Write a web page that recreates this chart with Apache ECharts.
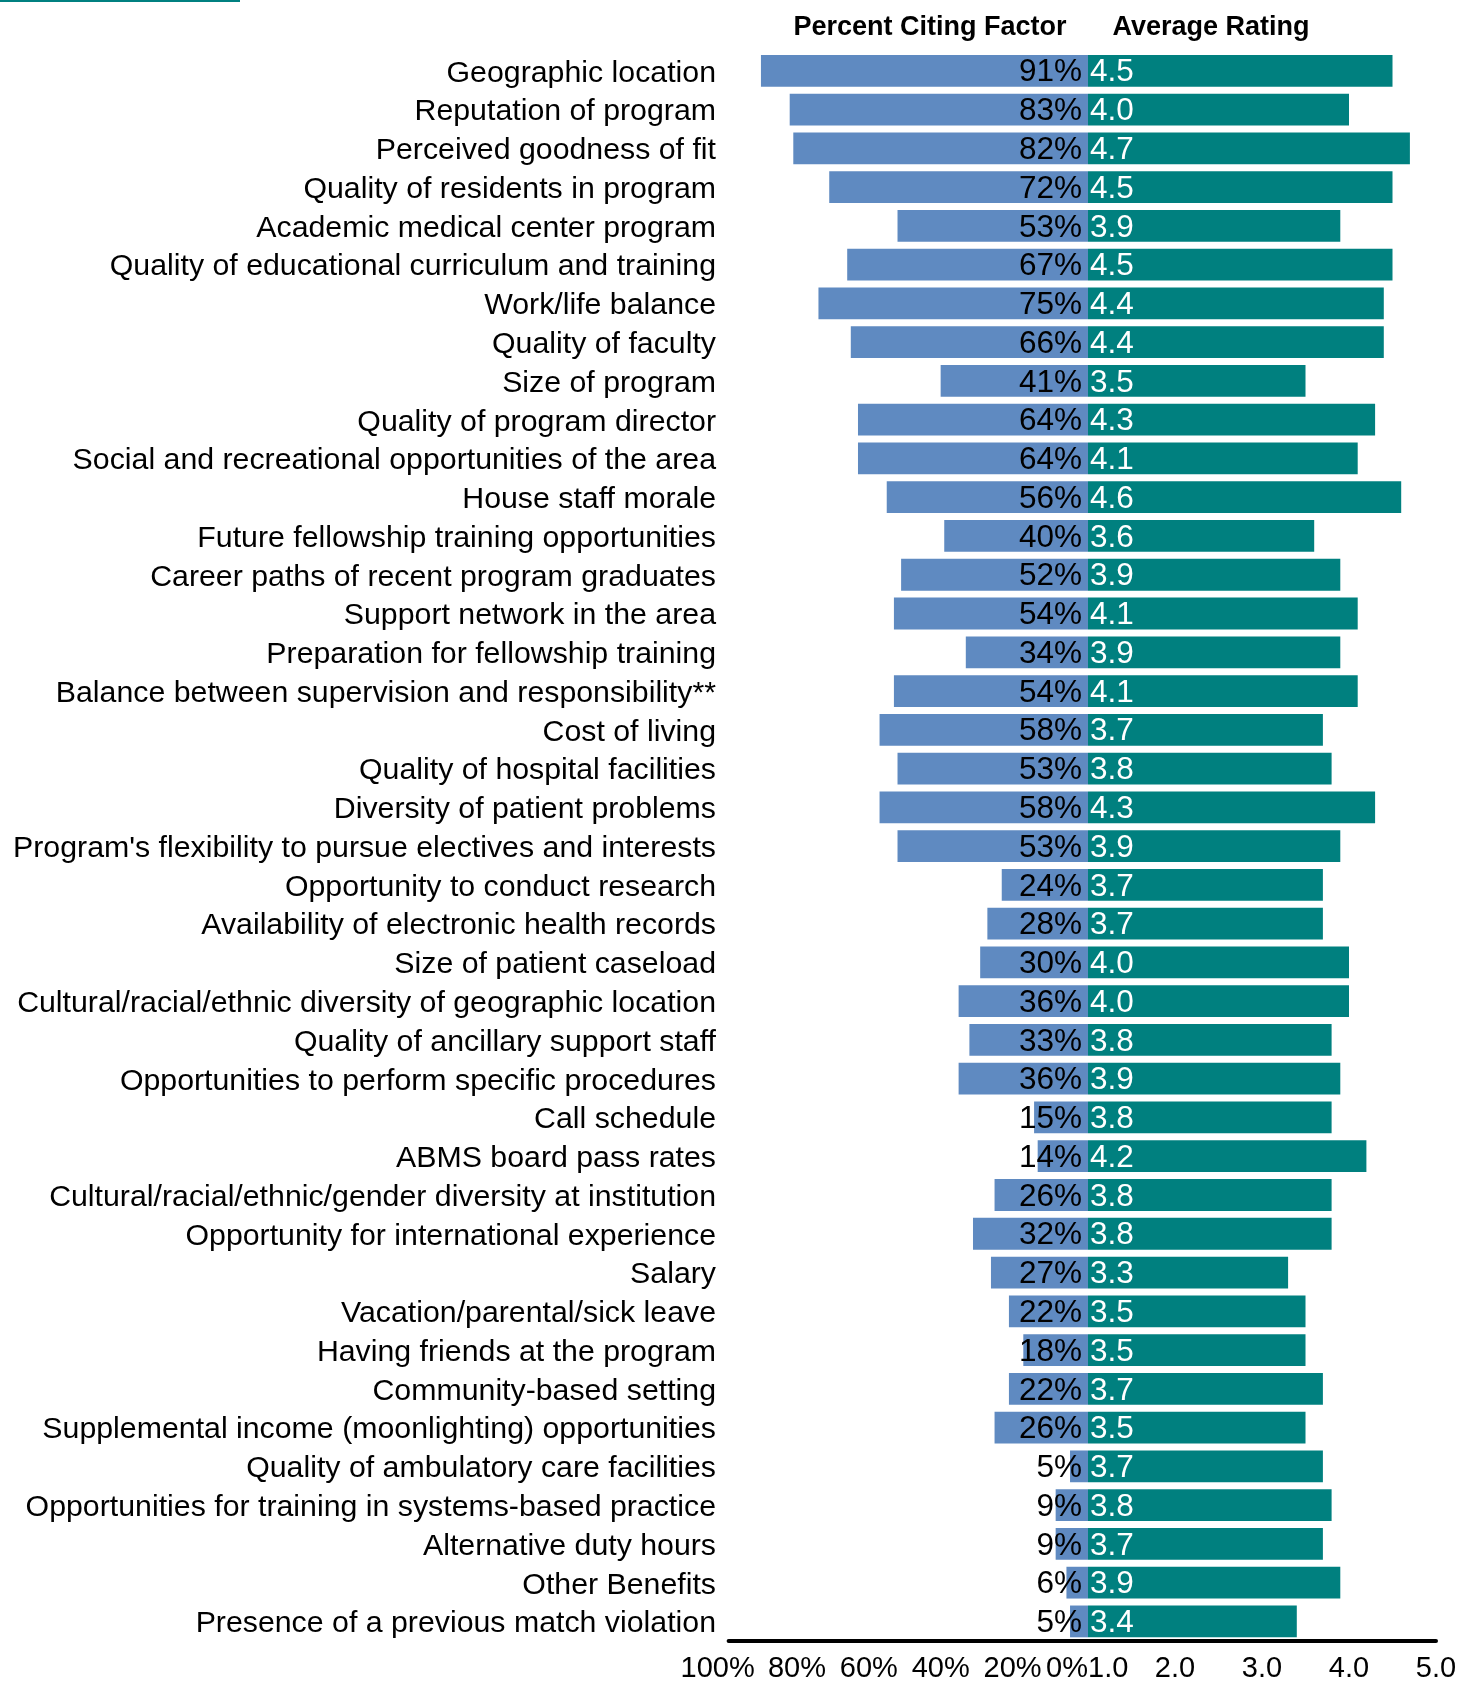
<!DOCTYPE html>
<html>
<head>
<meta charset="utf-8">
<script src="https://cdn.jsdelivr.net/npm/echarts@6/dist/echarts.min.js"></script>
<style>
html,body{margin:0;padding:0;background:#fff;}
#chart{width:1457px;height:1682px;}
</style>
</head>
<body>
<div id="chart"></div>
<script>
const categories = [
  "Geographic location",
  "Reputation of program",
  "Perceived goodness of fit",
  "Quality of residents in program",
  "Academic medical center program",
  "Quality of educational curriculum and training",
  "Work/life balance",
  "Quality of faculty",
  "Size of program",
  "Quality of program director",
  "Social and recreational opportunities of the area",
  "House staff morale",
  "Future fellowship training opportunities",
  "Career paths of recent program graduates",
  "Support network in the area",
  "Preparation for fellowship training",
  "Balance between supervision and responsibility**",
  "Cost of living",
  "Quality of hospital facilities",
  "Diversity of patient problems",
  "Program's flexibility to pursue electives and interests",
  "Opportunity to conduct research",
  "Availability of electronic health records",
  "Size of patient caseload",
  "Cultural/racial/ethnic diversity of geographic location",
  "Quality of ancillary support staff",
  "Opportunities to perform specific procedures",
  "Call schedule",
  "ABMS board pass rates",
  "Cultural/racial/ethnic/gender diversity at institution",
  "Opportunity for international experience",
  "Salary",
  "Vacation/parental/sick leave",
  "Having friends at the program",
  "Community-based setting",
  "Supplemental income (moonlighting) opportunities",
  "Quality of ambulatory care facilities",
  "Opportunities for training in systems-based practice",
  "Alternative duty hours",
  "Other Benefits",
  "Presence of a previous match violation"
];

const percentCiting = [91, 83, 82, 72, 53, 67, 75, 66, 41, 64, 64, 56, 40, 52, 54, 34, 54, 58, 53, 58, 53, 24, 28, 30, 36, 33, 36, 15, 14, 26, 32, 27, 22, 18, 22, 26, 5, 9, 9, 6, 5];

const averageRating = [4.5, 4.0, 4.7, 4.5, 3.9, 4.5, 4.4, 4.4, 3.5, 4.3, 4.1, 4.6, 3.6, 3.9, 4.1, 3.9, 4.1, 3.7, 3.8, 4.3, 3.9, 3.7, 3.7, 4.0, 4.0, 3.8, 3.9, 3.8, 4.2, 3.8, 3.8, 3.3, 3.5, 3.5, 3.7, 3.5, 3.7, 3.8, 3.7, 3.9, 3.4];

const headers = ["Percent Citing Factor", "Average Rating"];

const FONT = "'Liberation Sans', Arial, sans-serif";
const chart = echarts.init(document.getElementById('chart'), null, {renderer: 'canvas'});

const gridTop = 51.4, gridHeight = 1589.4;

const option = {
  animation: false,
  backgroundColor: '#ffffff',
  textStyle: {fontFamily: FONT},
  title: [
    {text: headers[0], left: 925, top: 9, textAlign: 'center',
     textStyle: {fontFamily: FONT, fontWeight: 'bold', fontSize: 27, color: '#000'}},
    {text: headers[1], left: 1206, top: 9, textAlign: 'center',
     textStyle: {fontFamily: FONT, fontWeight: 'bold', fontSize: 27, color: '#000'}}
  ],
  graphic: [
    {type: 'rect', shape: {x: 0, y: 0, width: 240, height: 2}, style: {fill: '#008080'}}
  ],
  grid: [
    {left: 728.6, width: 359.4, top: gridTop, height: gridHeight, outerBoundsMode: 'none', containLabel: false},
    {left: 1088, width: 348, top: gridTop, height: gridHeight, outerBoundsMode: 'none', containLabel: false}
  ],
  xAxis: [
    {
      gridIndex: 0, type: 'value', inverse: true, min: 0, max: 100, interval: 20,
      splitLine: {show: false}, axisTick: {show: false},
      axisLine: {show: true, onZero: false, lineStyle: {color: '#000', width: 4, cap: 'round'}},
      axisLabel: {
        formatter: function (v) { return v === 100 ? '{edge|' + v + '%}' : (v === 0 ? v + '%' : '{mid|' + v + '%}'); },
        rich: {
          edge: {fontSize: 29, color: '#000', padding: [0, 22, 0, 0]},
          mid: {fontSize: 29, color: '#000', padding: [0, 7, 0, 0]}
        },
        fontSize: 29, color: '#000', margin: 14, alignMinLabel: 'right', hideOverlap: false
      }
    },
    {
      gridIndex: 1, type: 'value', min: 1, max: 5, interval: 1,
      splitLine: {show: false}, axisTick: {show: false},
      axisLine: {show: true, onZero: false, lineStyle: {color: '#000', width: 4, cap: 'round'}},
      axisLabel: {formatter: function (v) { return v.toFixed(1); }, fontSize: 29, color: '#000', margin: 14, alignMinLabel: 'left', hideOverlap: false}
    }
  ],
  yAxis: [
    {
      gridIndex: 0, type: 'category', data: categories, inverse: true,
      axisLine: {show: false}, axisTick: {show: false},
      axisLabel: {
        formatter: function (v) { return '{c|' + v + '}'; },
        rich: {c: {fontSize: 30.3, color: '#000', padding: [5, 0, 0, 0]}},
        fontSize: 30.3, color: '#000', margin: 12.6, interval: 0
      }
    },
    {
      gridIndex: 1, type: 'category', data: categories, inverse: true, show: false
    }
  ],
  series: [
    {
      type: 'bar', xAxisIndex: 0, yAxisIndex: 0, data: percentCiting,
      barCategoryGap: '18%',
      itemStyle: {color: '#5F8AC1'},
      label: {show: true, position: 'insideRight', distance: 6, offset: [0, 2], formatter: '{c}%', fontSize: 31.5, color: '#000', fontFamily: FONT}
    },
    {
      type: 'bar', xAxisIndex: 1, yAxisIndex: 1, data: averageRating,
      barCategoryGap: '18%',
      itemStyle: {color: '#00807F'},
      label: {show: true, position: 'insideLeft', distance: 2, offset: [0, 2], formatter: function (p) { return p.value.toFixed(1); }, fontSize: 31.5, color: '#fff', fontFamily: FONT}
    }
  ]
};

chart.setOption(option);
</script>
</body>
</html>
